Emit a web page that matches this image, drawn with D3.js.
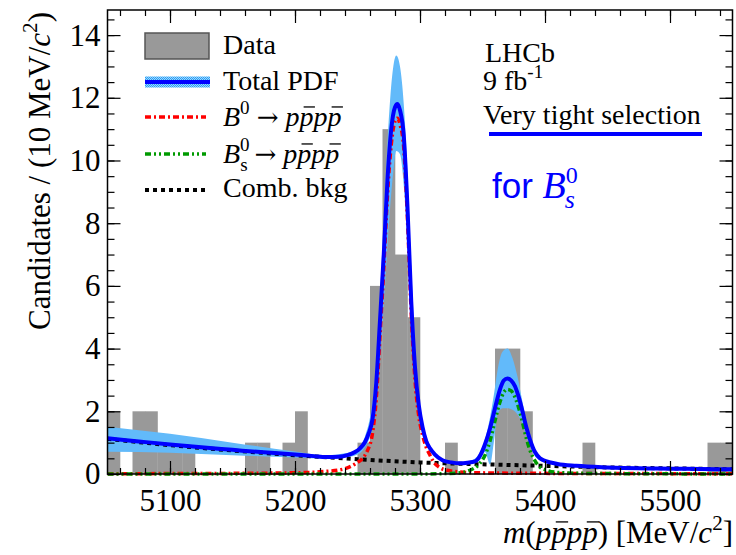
<!DOCTYPE html>
<html>
<head>
<meta charset="utf-8">
<script src="https://cdn.jsdelivr.net/npm/d3@7"></script>
<style>
body { margin: 0; background: #fff; }
text { font-family: "Liberation Serif", "Times New Roman", serif; fill: #000; }
</style>
</head>
<body>
<div id="chart"></div>
<script>

// histogram, 10 MeV bins starting at 5050
var binLow = 5050, binWidth = 10;
var counts = [2,0,2,2,1,1,1,0,0,0,
              0,1,1,0,1,2,0,0,0,0,
              1,6,11,7,5,0,0,1,0,0,
              0,4,4,2,0,0,0,0,1,0,
              0,0,0,0,0,0,0,0,1,1];

// [mass, value]
var totalPdf = [[5050,1.14],[5075,1.04],[5100,0.94],[5125,0.85],[5150,0.77],[5175,0.69],[5200,0.62],
  [5215,0.57],[5225,0.54],[5235,0.55],[5242,0.6],[5248,0.7],[5252,0.82],[5256,1.02],[5259,1.3],
  [5262,1.75],[5265,2.9],[5268,4.9],[5271,7.0],[5274,9.4],[5277,11.0],[5280,11.7],[5282,11.8],
  [5284,11.6],[5287,10.8],[5290,8.5],[5293,5.5],[5296,3.4],[5299,2.2],[5302,1.5],[5305,1.05],
  [5308,0.82],[5312,0.62],[5318,0.44],[5325,0.37],[5332,0.34],[5338,0.36],[5344,0.4],[5348,0.58],
  [5352,0.95],[5356,1.45],[5360,2.1],[5364,2.7],[5367,2.98],[5370,3.05],[5373,2.98],[5376,2.8],
  [5379,2.45],[5382,2.0],[5385,1.5],[5388,1.1],[5392,0.7],[5396,0.5],[5400,0.42],[5410,0.32],
  [5425,0.26],[5450,0.21],[5475,0.18],[5500,0.17],[5525,0.16],[5550,0.15]];

// [mass, low, high] of the uncertainty band
var pdfBand = [[5050,0.71,1.51],[5100,0.68,1.28],[5150,0.6,1.0],[5200,0.53,0.72],[5225,0.49,0.6],
  [5240,0.53,0.66],[5250,0.62,0.8],[5256,0.85,1.2],[5260,1.2,1.8],[5263,1.7,2.6],[5266,2.7,4.2],
  [5269,4.2,6.5],[5272,6.0,9.0],[5275,7.9,11.3],[5278,9.4,12.8],[5281,10.3,13.35],[5284,10.2,13.0],
  [5287,9.2,11.8],[5290,7.4,9.6],[5293,5.0,6.6],[5296,3.1,4.2],[5299,1.9,2.6],[5302,1.25,1.7],
  [5306,0.85,1.1],[5312,0.55,0.65],[5320,0.38,0.46],[5332,0.31,0.38],[5342,0.35,0.45],
  [5348,0.45,0.7],[5352,0.7,1.1],[5356,0.3,1.8],[5359,1.0,2.5],[5362,1.9,3.3],[5366,2.1,3.9],
  [5370,2.1,4.0],[5374,2.05,3.7],[5378,1.9,3.1],[5382,1.6,2.3],[5386,1.1,1.5],[5390,0.7,0.95],
  [5395,0.45,0.6],[5400,0.38,0.45],[5410,0.28,0.36],[5450,0.19,0.23],[5550,0.13,0.17]];

var b0Pdf = [[5050,0.01],[5150,0.02],[5200,0.04],[5220,0.07],[5238,0.15],[5248,0.32],[5254,0.5],
  [5258,0.75],[5262,1.3],[5265,2.4],[5268,4.4],[5271,6.5],[5274,8.9],[5277,10.5],[5280,11.25],
  [5282,11.35],[5284,11.15],[5287,10.4],[5290,8.1],[5293,5.1],[5296,3.0],[5299,1.85],[5302,1.25],
  [5305,0.85],[5308,0.6],[5311,0.38],[5316,0.2],[5322,0.12],[5330,0.07],[5345,0.04],[5400,0.02],
  [5550,0.01]];

var bsPdf = [[5050,0],[5300,0],[5330,0.03],[5340,0.12],[5347,0.3],[5352,0.6],[5356,1.05],[5360,1.7],
  [5364,2.3],[5367,2.6],[5370,2.7],[5373,2.65],[5376,2.45],[5379,2.1],[5382,1.65],[5385,1.15],
  [5388,0.75],[5392,0.42],[5396,0.22],[5400,0.14],[5410,0.05],[5430,0.02],[5550,0]];

var combBkg = [[5050,1.12],[5100,0.92],[5150,0.75],[5200,0.6],[5250,0.47],[5300,0.37],[5350,0.31],
  [5400,0.26],[5450,0.21],[5500,0.18],[5550,0.15]];

var xMajor = [5100, 5200, 5300, 5400, 5500];

var margin = {top: 10, left: 107.5, right: 3.5, bottom: 81},
    width = 736 - margin.left - margin.right,
    height = 555 - margin.top - margin.bottom;

var svg = d3.select("#chart").append("svg")
    .attr("width", 736).attr("height", 555);

var defs = svg.append("defs");
var pat = defs.append("pattern").attr("id", "hatch")
    .attr("patternUnits", "userSpaceOnUse").attr("width", 2).attr("height", 2);
pat.append("rect").attr("width", 2).attr("height", 2).attr("fill", "#9ad6ff");
pat.append("rect").attr("width", 1).attr("height", 1).attr("fill", "#2a9df4");
pat.append("rect").attr("x", 1).attr("y", 1).attr("width", 1).attr("height", 1).attr("fill", "#2a9df4");

defs.append("clipPath").attr("id", "plotclip").append("rect")
    .attr("x", 0).attr("y", 0).attr("width", width).attr("height", height + 3);

var g = svg.append("g").attr("transform", "translate(" + margin.left + "," + margin.top + ")");

var x = d3.scaleLinear().domain([5050, 5550]).range([0, width]);
var y = d3.scaleLinear().domain([0, 14.8]).range([height, 0]);

var plot = g.append("g").attr("clip-path", "url(#plotclip)");

// data histogram
plot.selectAll(".bar")
    .data(counts).enter().append("rect")
    .attr("class", "bar")
    .attr("x", function(d, i){ return x(binLow + i * binWidth); })
    .attr("width", x(binLow + binWidth) - x(binLow) + 0.3)
    .attr("y", function(d){ return y(d); })
    .attr("height", function(d){ return y(0) - y(d); })
    .attr("fill", "#999999");

var band = d3.area()
    .x(function(d){ return x(d[0]); })
    .y0(function(d){ return y(d[1]); })
    .y1(function(d){ return y(d[2]); })
    .curve(d3.curveMonotoneX);

plot.append("path").datum(pdfBand)
    .attr("d", band)
    .attr("fill", "url(#hatch)");

var line = d3.line()
    .x(function(d){ return x(d[0]); })
    .y(function(d){ return y(d[1]); })
    .curve(d3.curveMonotoneX);

plot.append("path").datum(combBkg)
    .attr("d", line).attr("fill", "none")
    .attr("stroke", "#000").attr("stroke-width", 4).attr("stroke-dasharray", "4,4");

plot.append("path").datum(b0Pdf)
    .attr("d", line).attr("fill", "none")
    .attr("stroke", "#ff0000").attr("stroke-width", 3.5).attr("stroke-dasharray", "6,3,2,3");

plot.append("path").datum(bsPdf)
    .attr("d", line).attr("fill", "none")
    .attr("stroke", "#009a00").attr("stroke-width", 3.5).attr("stroke-dasharray", "6,3,2,3,2,3");

plot.append("path").datum(totalPdf)
    .attr("d", line).attr("fill", "none")
    .attr("stroke", "#0000ff").attr("stroke-width", 4);

// axes, ticks pointing inward on all four sides
function styleAxis(sel){
    sel.select(".domain").remove();
    sel.selectAll("line").attr("stroke", "#000").attr("stroke-width", 1.2);
    sel.selectAll("text").style("font-size", "31px").style("font-family", "Liberation Serif");
}

g.append("g").attr("transform", "translate(0," + height + ")")
    .call(d3.axisBottom(x).tickValues(xMajor).tickSize(-13).tickPadding(15).tickFormat(d3.format("d")))
    .call(styleAxis);
g.append("g").attr("transform", "translate(0," + height + ")")
    .call(d3.axisBottom(x).tickValues(x.ticks(25)).tickSize(-6).tickFormat(""))
    .call(styleAxis);
g.append("g")
    .call(d3.axisTop(x).tickValues(xMajor).tickSize(-13).tickFormat(""))
    .call(styleAxis);
g.append("g")
    .call(d3.axisTop(x).tickValues(x.ticks(25)).tickSize(-6).tickFormat(""))
    .call(styleAxis);

g.append("g")
    .call(d3.axisLeft(y).tickValues(y.ticks(7)).tickSize(-13).tickPadding(7))
    .call(styleAxis);
g.append("g")
    .call(d3.axisLeft(y).tickValues(y.ticks(30)).tickSize(-7).tickFormat(""))
    .call(styleAxis);
g.append("g").attr("transform", "translate(" + width + ",0)")
    .call(d3.axisRight(y).tickValues(y.ticks(7)).tickSize(-13).tickFormat(""))
    .call(styleAxis);
g.append("g").attr("transform", "translate(" + width + ",0)")
    .call(d3.axisRight(y).tickValues(y.ticks(30)).tickSize(-7).tickFormat(""))
    .call(styleAxis);

g.append("rect").attr("width", width).attr("height", height)
    .attr("fill", "none").attr("stroke", "#000").attr("stroke-width", 1.5);

// text with italic / super / sub pieces; overlines drawn as lines
function rich(parent, px, py, size, parts, anchor){
    var t = parent.append("text").attr("x", px).attr("y", py)
        .style("font-size", size + "px")
        .attr("text-anchor", anchor || "start");
    var off = 0, bars = [];
    parts.forEach(function(p){
        var target = p.sup ? -0.42 * size : (p.sub ? 0.28 * size : 0);
        var s = t.append("tspan").text(p.t).attr("dy", target - off);
        off = target;
        if (p.sup || p.sub) s.style("font-size", (0.68 * size) + "px");
        if (p.i) s.style("font-style", "italic");
        if (p.dx) s.attr("dx", p.dx);
        if (p.font) s.style("font-family", p.font);
        if (p.fs) s.style("font-size", p.fs + "px");
        if (p.bar) bars.push(s);
    });
    bars.forEach(function(s){
        var r = s.node().getExtentOfChar(0);
        parent.append("line")
            .attr("x1", r.x + 0.3 * r.width).attr("x2", r.x + r.width + 1.5)
            .attr("y1", py - 0.68 * size).attr("y2", py - 0.68 * size)
            .attr("stroke", "#000").attr("stroke-width", 1.3);
    });
    return t;
}

var decay = [{t: " "}, {t: "\u2192", font: "DejaVu Serif", fs: 26}, {t: " "},
             {t: "p", i: true}, {t: "p", i: true, bar: true},
             {t: "p", i: true}, {t: "p", i: true, bar: true}];

// axis titles
rich(svg, 733, 543, 31, [{t: "m", i: true}, {t: "("}, {t: "p", i: true}, {t: "p", i: true, bar: true},
    {t: "p", i: true}, {t: "p", i: true, bar: true}, {t: ") [MeV/"}, {t: "c", i: true},
    {t: "2", sup: true}, {t: "]"}], "end");

rich(svg.append("g").attr("transform", "translate(50,12) rotate(-90)"), 0, 0, 31,
    [{t: "Candidates / (10 MeV/"}, {t: "c", i: true}, {t: "2", sup: true}, {t: ")"}], "end");

// legend
var leg = svg.append("g");
leg.append("rect").attr("x", 145).attr("y", 33).attr("width", 64).attr("height", 26)
    .attr("fill", "#999999").attr("stroke", "#555").attr("stroke-width", 1.5);
leg.append("rect").attr("x", 145).attr("y", 76.5).attr("width", 65).attr("height", 11)
    .attr("fill", "url(#hatch)");
leg.append("line").attr("x1", 145).attr("x2", 210).attr("y1", 82).attr("y2", 82)
    .attr("stroke", "#0000ff").attr("stroke-width", 4);
leg.append("line").attr("x1", 145).attr("x2", 206).attr("y1", 117).attr("y2", 117)
    .attr("stroke", "#ff0000").attr("stroke-width", 3.5).attr("stroke-dasharray", "6,3,2,3");
leg.append("line").attr("x1", 145).attr("x2", 206).attr("y1", 154).attr("y2", 154)
    .attr("stroke", "#009a00").attr("stroke-width", 3.5).attr("stroke-dasharray", "6,3,2,3,2,3");
leg.append("line").attr("x1", 145).attr("x2", 206).attr("y1", 190).attr("y2", 190)
    .attr("stroke", "#000").attr("stroke-width", 4).attr("stroke-dasharray", "4,4");

rich(leg, 223, 54, 28, [{t: "Data"}]);
rich(leg, 223, 90, 28, [{t: "Total PDF"}]);
rich(leg, 223, 126, 28, [{t: "B", i: true}, {t: "0", sup: true}].concat(decay));
rich(leg, 223, 163, 28, [{t: "B", i: true}, {t: "0", sup: true}, {t: "s", sub: true, dx: -9.5}].concat(decay));
rich(leg, 223, 197, 28, [{t: "Comb. bkg"}]);

// labels top right
rich(svg, 485, 62, 28, [{t: "LHCb"}]);
rich(svg, 483, 90, 28, [{t: "9 fb"}, {t: "-1", sup: true}]);
rich(svg, 483, 124, 28, [{t: "Very tight selection"}]);
svg.append("line").attr("x1", 489).attr("x2", 702).attr("y1", 134).attr("y2", 134)
    .attr("stroke", "#0000ff").attr("stroke-width", 4);

rich(svg, 492, 198, 36, [{t: "for ", font: "Liberation Sans", fs: 35},
    {t: "B", i: true, fs: 38}, {t: "0", sup: true, fs: 24}, {t: "s", sub: true, i: true, fs: 26, dx: -13}])
    .style("fill", "#0000ff")
    .selectAll("tspan").style("fill", "#0000ff");

</script>
</body>
</html>
